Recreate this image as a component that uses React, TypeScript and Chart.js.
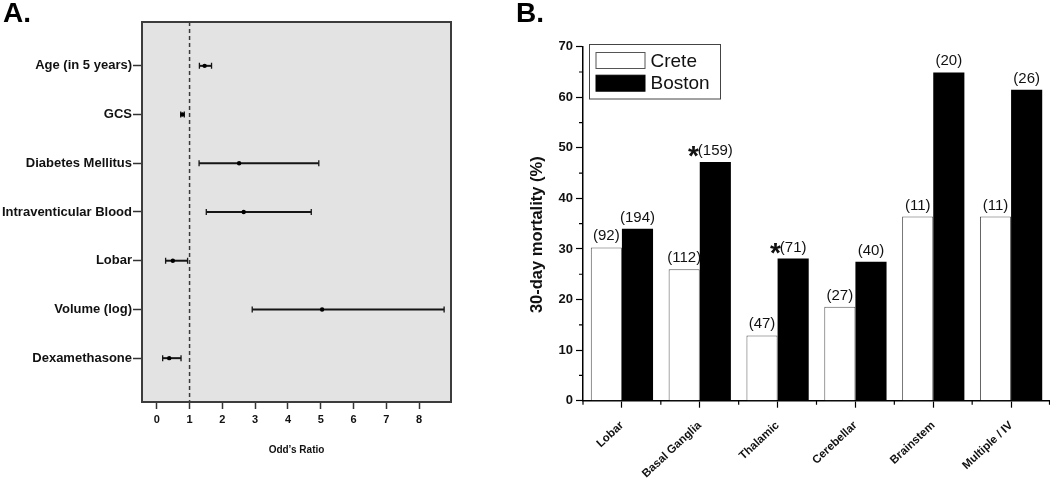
import React, { useEffect, useRef } from 'react';
import { Chart, registerables } from 'chart.js';

Chart.register(...registerables);

const FONT = '"Liberation Sans", Arial, Helvetica, sans-serif';

// ---------- Panel A: odds ratios ----------
const predictors = [
  'Age (in 5 years)',
  'GCS',
  'Diabetes Mellitus',
  'Intraventicular Blood',
  'Lobar',
  'Volume (log)',
  'Dexamethasone',
];
const oddsRatio = [1.46, 0.78, 2.51, 2.65, 0.49, 5.04, 0.38];
const ciLow = [1.3, 0.73, 1.29, 1.51, 0.27, 2.91, 0.18];
const ciHigh = [1.67, 0.84, 4.94, 4.71, 0.94, 8.76, 0.74];
const orTicks = [0, 1, 2, 3, 4, 5, 6, 7, 8];
const referenceOR = 1;
const orAxisTitle = 'Odd’s Ratio';

// ---------- Panel B: 30-day mortality ----------
const locations = ['Lobar', 'Basal Ganglia', 'Thalamic', 'Cerebellar', 'Brainstem', 'Multiple / IV'];
const creteMortality = [30.3, 26.0, 12.9, 18.6, 36.4, 36.4];
const bostonMortality = [34.0, 47.2, 28.1, 27.5, 64.9, 61.5];
const creteN = [92, 112, 47, 27, 11, 11];
const bostonN = [194, 159, 71, 40, 20, 26];
const significant = [false, true, true, false, false, false];
const mortalityTicks = [0, 10, 20, 30, 40, 50, 60, 70];
const mortalityMinorTicks = [5, 15, 25, 35, 45, 55, 65];
const mortalityTitle = '30-day mortality (%)';
const seriesNames = ['Crete', 'Boston'];

const forestPlugin = {
  id: 'forest',
  beforeDraw(chart: any) {
    const { ctx, chartArea: a } = chart;
    ctx.save();
    ctx.fillStyle = '#e3e3e3';
    ctx.fillRect(a.left, a.top, a.right - a.left, a.bottom - a.top);
    ctx.restore();
  },
  beforeDatasetsDraw(chart: any) {
    const { ctx, chartArea: a, scales } = chart;
    const x = scales.x;
    const y = scales.y;
    ctx.save();
    const rx = x.getPixelForValue(referenceOR);
    ctx.strokeStyle = '#3a3a3a';
    ctx.lineWidth = 1.5;
    ctx.setLineDash([4, 3]);
    ctx.beginPath();
    ctx.moveTo(rx, a.top);
    ctx.lineTo(rx, a.bottom);
    ctx.stroke();
    ctx.setLineDash([]);
    ctx.strokeStyle = '#151515';
    predictors.forEach((_, i) => {
      const py = y.getPixelForValue(i);
      const x0 = x.getPixelForValue(ciLow[i]);
      const x1 = x.getPixelForValue(ciHigh[i]);
      ctx.lineWidth = 2;
      ctx.beginPath();
      ctx.moveTo(x0, py);
      ctx.lineTo(x1, py);
      ctx.stroke();
      ctx.lineWidth = 1.3;
      ctx.beginPath();
      ctx.moveTo(x0, py - 3);
      ctx.lineTo(x0, py + 3);
      ctx.moveTo(x1, py - 3);
      ctx.lineTo(x1, py + 3);
      ctx.stroke();
    });
    ctx.restore();
  },
  afterDraw(chart: any) {
    const { ctx, chartArea: a } = chart;
    ctx.save();
    ctx.strokeStyle = '#3c3c3c';
    ctx.lineWidth = 2;
    ctx.strokeRect(a.left, a.top, a.right - a.left, a.bottom - a.top);
    ctx.restore();
  },
};

const barDecorPlugin = {
  id: 'barDecor',
  afterDatasetsDraw(chart: any) {
    const { ctx } = chart;
    const counts = [creteN, bostonN];
    ctx.save();
    counts.forEach((arr, di) => {
      const meta = chart.getDatasetMeta(di);
      arr.forEach((n, i) => {
        const el = meta.data[i];
        const txt = `(${n})`;
        ctx.font = `15px ${FONT}`;
        ctx.fillStyle = '#111';
        ctx.textAlign = 'center';
        ctx.textBaseline = 'alphabetic';
        ctx.fillText(txt, el.x, el.y - 7);
        if (di === 1 && significant[i]) {
          const w = ctx.measureText(txt).width;
          ctx.font = `bold 28px ${FONT}`;
          ctx.textAlign = 'right';
          ctx.fillText('*', el.x - w / 2 + 1, el.y + 3);
        }
      });
    });
    ctx.restore();
  },
  afterDraw(chart: any) {
    const { ctx, chartArea: a, scales } = chart;
    const x = scales.x;
    const y = scales.y;
    ctx.save();
    // minor ticks
    ctx.strokeStyle = '#000';
    ctx.lineWidth = 1.2;
    ctx.beginPath();
    mortalityMinorTicks.forEach((v) => {
      const py = y.getPixelForValue(v);
      ctx.moveTo(a.left - 4, py);
      ctx.lineTo(a.left, py);
    });
    const n = locations.length;
    for (let i = 0; i <= n; i++) {
      let px;
      if (i === 0) px = a.left;
      else if (i === n) px = a.right - 0.5;
      else px = (x.getPixelForValue(i - 1) + x.getPixelForValue(i)) / 2;
      ctx.moveTo(px, a.bottom);
      ctx.lineTo(px, a.bottom + 4);
    }
    ctx.stroke();

    // y title
    ctx.fillStyle = '#111';
    ctx.font = `bold 16.5px ${FONT}`;
    ctx.textAlign = 'center';
    ctx.textBaseline = 'middle';
    ctx.translate(67, (a.top + a.bottom) / 2 + 11);
    ctx.rotate(-Math.PI / 2);
    ctx.fillText(mortalityTitle, 0, 0);
    ctx.setTransform(1, 0, 0, 1, 0, 0);

    // legend
    const lx = 119.5;
    const ly = 44.5;
    ctx.fillStyle = '#fff';
    ctx.fillRect(lx, ly, 131, 54.5);
    ctx.strokeStyle = '#444';
    ctx.lineWidth = 1;
    ctx.strokeRect(lx, ly, 131, 54.5);
    const ds = chart.data.datasets;
    const rows = [60.5, 83.2];
    rows.forEach((cy, k) => {
      ctx.fillStyle = ds[k].backgroundColor;
      ctx.fillRect(126, cy - 8, 49, 16);
      ctx.strokeStyle = k === 0 ? '#555' : '#000';
      ctx.strokeRect(126, cy - 8, 49, 16);
      ctx.fillStyle = '#111';
      ctx.font = `19px ${FONT}`;
      ctx.textAlign = 'left';
      ctx.textBaseline = 'middle';
      ctx.fillText(seriesNames[k], 180.5, cy + 1);
    });
    ctx.restore();
  },
};

export default function App() {
  const aRef = useRef<HTMLCanvasElement>(null);
  const bRef = useRef<HTMLCanvasElement>(null);

  useEffect(() => {
    const chartA = new Chart(aRef.current as HTMLCanvasElement, {
      type: 'scatter',
      data: {
        datasets: [
          {
            data: oddsRatio.map((v, i) => ({ x: v, y: i })),
            pointRadius: 2.2,
            pointBackgroundColor: '#000',
            pointBorderColor: '#000',
            pointBorderWidth: 0,
          },
        ],
      },
      options: {
        responsive: false,
        animation: false,
        events: [],
        layout: { padding: { top: 22, right: 19, left: 0, bottom: 0 } },
        plugins: { legend: { display: false }, tooltip: { enabled: false }, title: { display: false } },
        scales: {
          x: {
            type: 'linear',
            position: 'bottom',
            min: -0.45,
            max: 8.97,
            afterBuildTicks: (s: any) => {
              s.ticks = orTicks.map((v) => ({ value: v }));
            },
            afterFit: (s: any) => {
              s.height = 77;
            },
            grid: { drawOnChartArea: false, drawTicks: true, tickLength: 7, tickColor: '#333', tickWidth: 1.5 },
            border: { display: false },
            ticks: { font: { family: FONT, size: 11, weight: 'bold' }, color: '#111', padding: 4, maxRotation: 0 },
            title: {
              display: true,
              text: orAxisTitle,
              font: { family: FONT, size: 10, weight: 'bold' },
              color: '#111',
              padding: { top: 0, bottom: 23 },
            },
          },
          y: {
            type: 'linear',
            reverse: true,
            min: -0.9,
            max: 6.9,
            afterBuildTicks: (s: any) => {
              s.ticks = predictors.map((_, i) => ({ value: i }));
            },
            afterFit: (s: any) => {
              s.width = 142;
            },
            grid: { drawOnChartArea: false, drawTicks: true, tickLength: 9, tickColor: '#333', tickWidth: 1.5 },
            border: { display: false },
            ticks: {
              font: { family: FONT, size: 13, weight: 'bold' },
              color: '#111',
              padding: 1,
              callback: (v: any) => predictors[v as number] ?? '',
            },
          },
        },
      },
      plugins: [forestPlugin],
    } as any);

    const chartB = new Chart(bRef.current as HTMLCanvasElement, {
      type: 'bar',
      data: {
        labels: locations,
        datasets: [
          {
            label: seriesNames[0],
            data: creteMortality,
            backgroundColor: '#ffffff',
            borderColor: '#555',
            borderWidth: { top: 1, left: 1, right: 1, bottom: 0 },
            borderSkipped: false,
            categoryPercentage: 0.8,
            barPercentage: 1.0,
          },
          {
            label: seriesNames[1],
            data: bostonMortality,
            backgroundColor: '#000000',
            borderWidth: 0,
            categoryPercentage: 0.8,
            barPercentage: 1.0,
          },
        ],
      },
      options: {
        responsive: false,
        animation: false,
        events: [],
        layout: { padding: { top: 46.7, right: 0, left: 0, bottom: 0 } },
        plugins: { legend: { display: false }, tooltip: { enabled: false }, title: { display: false } },
        scales: {
          x: {
            type: 'category',
            offset: true,
            afterFit: (s: any) => {
              s.height = 78.3;
            },
            grid: { drawOnChartArea: false, offset: false, drawTicks: true, tickLength: 7, tickColor: '#000', tickWidth: 1.2 },
            border: { display: true, color: '#000', width: 1.5 },
            ticks: {
              autoSkip: false,
              minRotation: 43,
              maxRotation: 43,
              font: { family: FONT, size: 11.5, weight: 'bold' },
              color: '#111',
              padding: 11,
            },
          },
          y: {
            type: 'linear',
            min: 0,
            max: 70,
            afterBuildTicks: (s: any) => {
              s.ticks = mortalityTicks.map((v) => ({ value: v }));
            },
            afterFit: (s: any) => {
              s.width = 113;
            },
            grid: { drawOnChartArea: false, drawTicks: true, tickLength: 7, tickColor: '#000', tickWidth: 1.2 },
            border: { display: true, color: '#000', width: 1.5 },
            ticks: { font: { family: FONT, size: 13, weight: 'bold' }, color: '#111', padding: 3 },
          },
        },
      },
      plugins: [barDecorPlugin],
    } as any);

    return () => {
      chartA.destroy();
      chartB.destroy();
    };
  }, []);

  const panelLabel: React.CSSProperties = {
    position: 'absolute',
    top: -1,
    font: `bold 28px ${FONT}`,
    lineHeight: '28px',
    color: '#000',
  };

  return (
    <div
      style={{
        position: 'fixed',
        left: 0,
        top: 0,
        width: 1050,
        height: 479,
        background: '#fff',
        overflow: 'hidden',
      }}
    >
      <canvas
        ref={aRef}
        width={470}
        height={479}
        style={{ position: 'absolute', left: 0, top: 0, width: 470, height: 479 }}
      />
      <canvas
        ref={bRef}
        width={580}
        height={479}
        style={{ position: 'absolute', left: 470, top: 0, width: 580, height: 479 }}
      />
      <div style={{ ...panelLabel, left: 3 }}>A.</div>
      <div style={{ ...panelLabel, left: 516 }}>B.</div>
    </div>
  );
}
